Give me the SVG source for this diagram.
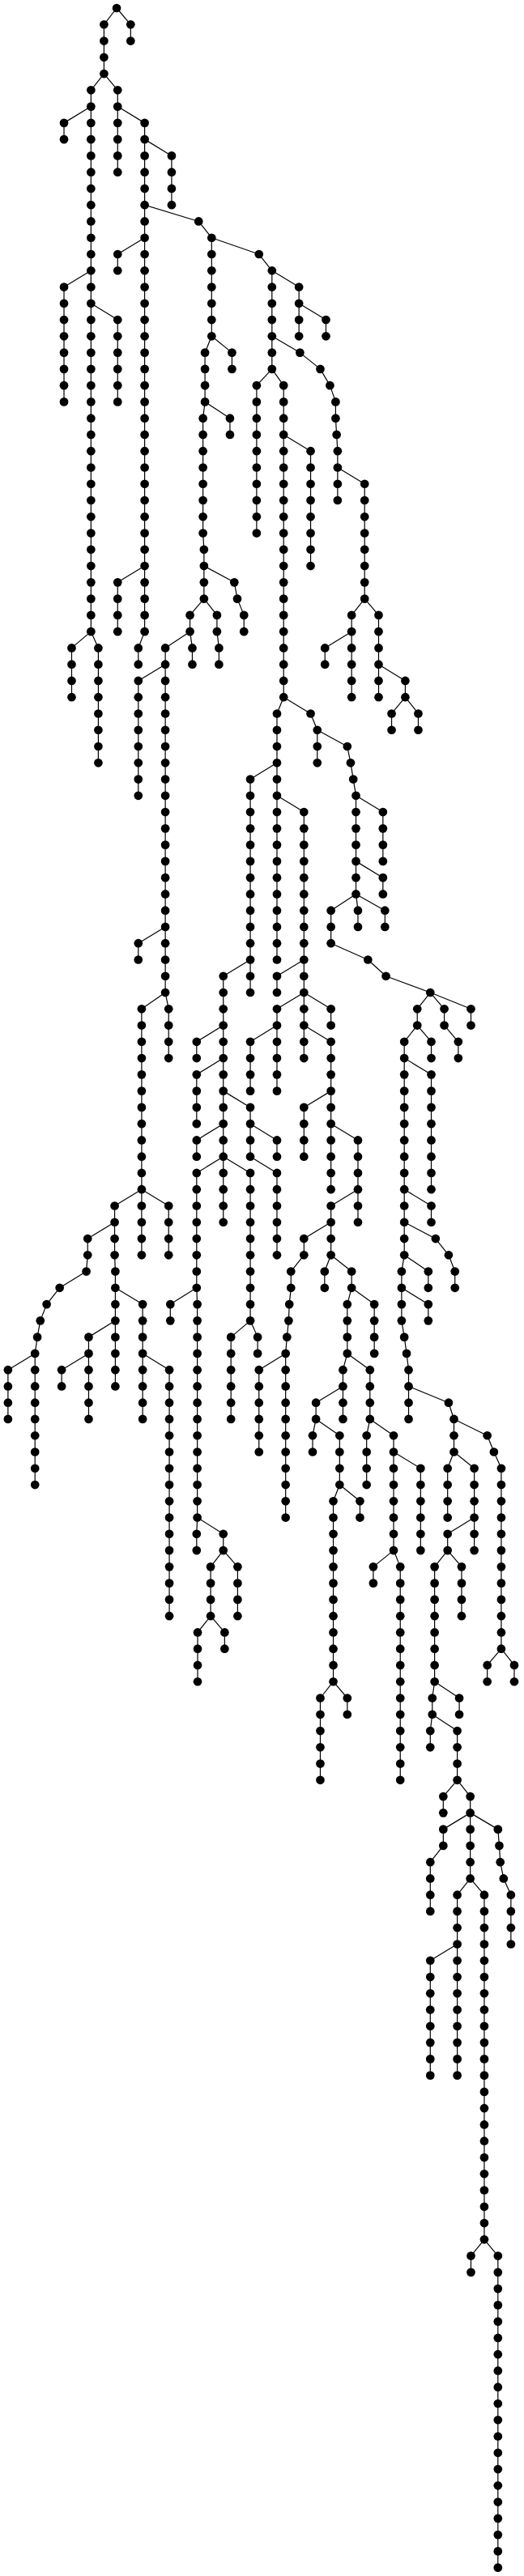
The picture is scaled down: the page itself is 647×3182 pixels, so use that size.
<svg xmlns="http://www.w3.org/2000/svg" width="647" height="3182" viewBox="0 0 647 3182">
<style>
.e path{fill:none;stroke:#000;stroke-width:1.2px;vector-effect:non-scaling-stroke;stroke-linejoin:round}
.n ellipse{fill:#000;rx:13px;ry:0.264px}
</style>
<rect width="647" height="3182" fill="#fff"/>
<g transform="translate(0 10) scale(0.411523 20.267)">
<g id="connectors" class="e">
<path d="M350 0L392 1V2"/><path d="M350 0L312 1V4"/><path d="M312 4L273 5V38"/><path d="M312 4L353 5V10"/><path d="M273 6L192 7V8"/><path d="M353 6L434 7V38"/><path d="M434 8L515 9V12"/><path d="M434 12L596 13L635 14V20"/><path d="M434 14L353 15V16"/><path d="M635 14L777 15L816 16V22"/><path d="M816 16L897 17V20"/><path d="M897 18L978 19V20"/><path d="M273 16L192 17V24"/><path d="M273 18L353 19V24"/><path d="M635 20L615 21V24"/><path d="M635 20L696 21V22"/><path d="M816 20L900 21L961 22L990 23L1007 24V25L1010 26L1013 27V30"/><path d="M816 22L770 23V32"/><path d="M816 22L851 23V42"/><path d="M615 24L609 25V32L612 33V36"/><path d="M615 24L690 25V26"/><path d="M851 26L932 27V34"/><path d="M1013 28L1094 29V36"/><path d="M434 34L353 35V38"/><path d="M612 34L703 35L712 36L732 37V38"/><path d="M612 36L570 37V38"/><path d="M612 36L651 37V38L657 39V40"/><path d="M1094 36L1055 37V42"/><path d="M1094 36L1136 37V42"/><path d="M273 38L215 39V42"/><path d="M273 38L295 39V46"/><path d="M434 38L415 39V40"/><path d="M570 38L496 39V60"/><path d="M570 38L577 39V40"/><path d="M1055 38L975 39V40"/><path d="M496 40L415 41V48"/><path d="M1136 40L1216 41V42"/><path d="M1216 42L1175 43V44"/><path d="M1216 42L1255 43V44"/><path d="M851 42L831 43V58"/><path d="M851 42L932 43L952 44V46"/><path d="M952 44L1042 45L1052 46L1060 47L1068 48V54"/><path d="M1068 48L1149 49V52"/><path d="M1068 52L1149 53V54"/><path d="M831 46L751 47V60"/><path d="M831 48L912 49V64"/><path d="M1068 54L993 55V57L1104 58L1158 59L1291 60"/><path d="M1068 54L1074 55V56"/><path d="M1068 54L1155 55V56"/><path d="M496 56L415 57V58"/><path d="M751 58L670 59V74"/><path d="M912 58L831 59V60"/><path d="M496 60L425 61V76"/><path d="M496 60L506 61V64"/><path d="M912 60L831 61V66"/><path d="M912 60L993 61V62"/><path d="M1291 60L1252 61V62"/><path d="M1291 60L1333 61V62"/><path d="M1291 60L1413 61V62"/><path d="M670 62L590 63V64"/><path d="M831 62L751 63V66"/><path d="M912 62L993 63V72"/><path d="M1252 62L1213 63V76L1205 77V80L1213 81L1220 82L1226 83V86"/><path d="M1252 62L1294 63V64"/><path d="M1333 62L1375 63V64"/><path d="M670 64L590 65V68"/><path d="M1213 64L1294 65V72"/><path d="M1213 72L1294 73V74"/><path d="M670 66L751 67V70L831 71V76"/><path d="M993 66L912 67V70"/><path d="M670 68L590 69V70"/><path d="M751 68L831 69V70"/><path d="M993 68L1074 69V74"/><path d="M670 70L590 71V78"/><path d="M670 70L751 71V80"/><path d="M425 72L344 73V76L346 77V84"/><path d="M425 72L506 73V76"/><path d="M1074 72L993 73V76"/><path d="M344 74L263 75V76L259 77L179 78L140 79L121 80L112 81L105 82V90"/><path d="M993 74L912 75V76L873 77V78L868 79L866 80L861 81L857 82V92"/><path d="M1213 74L1307 75L1346 76L1365 77V78"/><path d="M993 76L974 77V78"/><path d="M993 76L1055 77V78"/><path d="M1213 76L1285 77V78"/><path d="M346 78L428 79V86"/><path d="M590 78L511 79V80"/><path d="M590 78L592 79V92"/><path d="M1055 78L1042 79V82"/><path d="M1055 78L1123 79V82"/><path d="M1205 78L1285 79V80"/><path d="M346 80L266 81V86"/><path d="M751 80L693 81V86"/><path d="M751 80L773 81V82"/><path d="M105 82L24 83V86"/><path d="M266 82L185 83V84"/><path d="M428 82L508 83V98"/><path d="M857 82L777 83V88"/><path d="M1042 82L1029 83V86"/><path d="M1042 82L1110 83V86"/><path d="M1029 84L948 85V86"/><path d="M1226 84L1346 85L1362 86V88"/><path d="M948 86L938 87V88"/><path d="M948 86L1019 87V90"/><path d="M1110 86L1100 87V90"/><path d="M1110 86L1181 87V94"/><path d="M1362 86L1462 87L1482 88L1504 89V100"/><path d="M1181 88L1262 89V94"/><path d="M1362 88L1343 89V92"/><path d="M1362 88L1423 89V94"/><path d="M1019 90L1000 91V102"/><path d="M1019 90L1080 91V92"/><path d="M592 92L590 93V94"/><path d="M592 92L670 93V94"/><path d="M1423 92L1343 93V94"/><path d="M670 94L632 95V98"/><path d="M670 94L713 95V98"/><path d="M1181 94L1120 95V96"/><path d="M1181 94L1201 95V108"/><path d="M1343 94L1304 95V102"/><path d="M1343 94L1385 95V98"/><path d="M632 98L593 99V102"/><path d="M632 98L674 99V100"/><path d="M1504 100L1462 101V102"/><path d="M1504 100L1543 101V102"/><path d="M1000 102L961 103V108"/><path d="M1000 102L1042 103V104"/><path d="M1304 102L1297 103V104"/><path d="M1304 102L1378 103V104"/><path d="M1297 104L1291 105V106"/><path d="M1297 104L1372 105V108"/><path d="M1372 108L1330 109V110"/><path d="M1372 108L1411 109V114"/><path d="M1411 110L1330 111V112L1291 113V116"/><path d="M1411 110L1494 111L1498 112L1501 113L1511 114L1533 115V118"/><path d="M1411 114L1372 115V126"/><path d="M1411 114L1453 115V136"/><path d="M1372 118L1291 119V126"/><path d="M1453 136L1413 137V138"/><path d="M1453 136L1494 137V156"/>
</g>
<g id="nodes" class="n">
<g id="n0_350"><ellipse cx="350" cy="0"/></g>
<g id="n1_392"><ellipse cx="392" cy="1"/></g><g id="n2_392"><ellipse cx="392" cy="2"/></g>
<g id="n1_312"><ellipse cx="312" cy="1"/></g><g id="n2_312"><ellipse cx="312" cy="2"/></g><g id="n3_312"><ellipse cx="312" cy="3"/></g><g id="n4_312"><ellipse cx="312" cy="4"/></g>
<g id="n5_273"><ellipse cx="273" cy="5"/></g><g id="n6_273"><ellipse cx="273" cy="6"/></g><g id="n7_273"><ellipse cx="273" cy="7"/></g><g id="n8_273"><ellipse cx="273" cy="8"/></g><g id="n9_273"><ellipse cx="273" cy="9"/></g><g id="n10_273"><ellipse cx="273" cy="10"/></g><g id="n11_273"><ellipse cx="273" cy="11"/></g><g id="n12_273"><ellipse cx="273" cy="12"/></g><g id="n13_273"><ellipse cx="273" cy="13"/></g><g id="n14_273"><ellipse cx="273" cy="14"/></g><g id="n15_273"><ellipse cx="273" cy="15"/></g><g id="n16_273"><ellipse cx="273" cy="16"/></g><g id="n17_273"><ellipse cx="273" cy="17"/></g><g id="n18_273"><ellipse cx="273" cy="18"/></g><g id="n19_273"><ellipse cx="273" cy="19"/></g><g id="n20_273"><ellipse cx="273" cy="20"/></g><g id="n21_273"><ellipse cx="273" cy="21"/></g><g id="n22_273"><ellipse cx="273" cy="22"/></g><g id="n23_273"><ellipse cx="273" cy="23"/></g><g id="n24_273"><ellipse cx="273" cy="24"/></g><g id="n25_273"><ellipse cx="273" cy="25"/></g><g id="n26_273"><ellipse cx="273" cy="26"/></g><g id="n27_273"><ellipse cx="273" cy="27"/></g><g id="n28_273"><ellipse cx="273" cy="28"/></g><g id="n29_273"><ellipse cx="273" cy="29"/></g><g id="n30_273"><ellipse cx="273" cy="30"/></g><g id="n31_273"><ellipse cx="273" cy="31"/></g><g id="n32_273"><ellipse cx="273" cy="32"/></g><g id="n33_273"><ellipse cx="273" cy="33"/></g><g id="n34_273"><ellipse cx="273" cy="34"/></g><g id="n35_273"><ellipse cx="273" cy="35"/></g><g id="n36_273"><ellipse cx="273" cy="36"/></g><g id="n37_273"><ellipse cx="273" cy="37"/></g><g id="n38_273"><ellipse cx="273" cy="38"/></g>
<g id="n5_353"><ellipse cx="353" cy="5"/></g><g id="n6_353"><ellipse cx="353" cy="6"/></g><g id="n7_353"><ellipse cx="353" cy="7"/></g><g id="n8_353"><ellipse cx="353" cy="8"/></g><g id="n9_353"><ellipse cx="353" cy="9"/></g><g id="n10_353"><ellipse cx="353" cy="10"/></g>
<g id="n7_192"><ellipse cx="192" cy="7"/></g><g id="n8_192"><ellipse cx="192" cy="8"/></g>
<g id="n7_434"><ellipse cx="434" cy="7"/></g><g id="n8_434"><ellipse cx="434" cy="8"/></g><g id="n9_434"><ellipse cx="434" cy="9"/></g><g id="n10_434"><ellipse cx="434" cy="10"/></g><g id="n11_434"><ellipse cx="434" cy="11"/></g><g id="n12_434"><ellipse cx="434" cy="12"/></g><g id="n13_434"><ellipse cx="434" cy="13"/></g><g id="n14_434"><ellipse cx="434" cy="14"/></g><g id="n15_434"><ellipse cx="434" cy="15"/></g><g id="n16_434"><ellipse cx="434" cy="16"/></g><g id="n17_434"><ellipse cx="434" cy="17"/></g><g id="n18_434"><ellipse cx="434" cy="18"/></g><g id="n19_434"><ellipse cx="434" cy="19"/></g><g id="n20_434"><ellipse cx="434" cy="20"/></g><g id="n21_434"><ellipse cx="434" cy="21"/></g><g id="n22_434"><ellipse cx="434" cy="22"/></g><g id="n23_434"><ellipse cx="434" cy="23"/></g><g id="n24_434"><ellipse cx="434" cy="24"/></g><g id="n25_434"><ellipse cx="434" cy="25"/></g><g id="n26_434"><ellipse cx="434" cy="26"/></g><g id="n27_434"><ellipse cx="434" cy="27"/></g><g id="n28_434"><ellipse cx="434" cy="28"/></g><g id="n29_434"><ellipse cx="434" cy="29"/></g><g id="n30_434"><ellipse cx="434" cy="30"/></g><g id="n31_434"><ellipse cx="434" cy="31"/></g><g id="n32_434"><ellipse cx="434" cy="32"/></g><g id="n33_434"><ellipse cx="434" cy="33"/></g><g id="n34_434"><ellipse cx="434" cy="34"/></g><g id="n35_434"><ellipse cx="434" cy="35"/></g><g id="n36_434"><ellipse cx="434" cy="36"/></g><g id="n37_434"><ellipse cx="434" cy="37"/></g><g id="n38_434"><ellipse cx="434" cy="38"/></g>
<g id="n9_515"><ellipse cx="515" cy="9"/></g><g id="n10_515"><ellipse cx="515" cy="10"/></g><g id="n11_515"><ellipse cx="515" cy="11"/></g><g id="n12_515"><ellipse cx="515" cy="12"/></g>
<g id="n13_596"><ellipse cx="596" cy="13"/></g><g id="n14_635"><ellipse cx="635" cy="14"/></g><g id="n15_635"><ellipse cx="635" cy="15"/></g><g id="n16_635"><ellipse cx="635" cy="16"/></g><g id="n17_635"><ellipse cx="635" cy="17"/></g><g id="n18_635"><ellipse cx="635" cy="18"/></g><g id="n19_635"><ellipse cx="635" cy="19"/></g><g id="n20_635"><ellipse cx="635" cy="20"/></g>
<g id="n15_353"><ellipse cx="353" cy="15"/></g><g id="n16_353"><ellipse cx="353" cy="16"/></g>
<g id="n15_777"><ellipse cx="777" cy="15"/></g><g id="n16_816"><ellipse cx="816" cy="16"/></g><g id="n17_816"><ellipse cx="816" cy="17"/></g><g id="n18_816"><ellipse cx="816" cy="18"/></g><g id="n19_816"><ellipse cx="816" cy="19"/></g><g id="n20_816"><ellipse cx="816" cy="20"/></g><g id="n21_816"><ellipse cx="816" cy="21"/></g><g id="n22_816"><ellipse cx="816" cy="22"/></g>
<g id="n17_897"><ellipse cx="897" cy="17"/></g><g id="n18_897"><ellipse cx="897" cy="18"/></g><g id="n19_897"><ellipse cx="897" cy="19"/></g><g id="n20_897"><ellipse cx="897" cy="20"/></g>
<g id="n19_978"><ellipse cx="978" cy="19"/></g><g id="n20_978"><ellipse cx="978" cy="20"/></g>
<g id="n17_192"><ellipse cx="192" cy="17"/></g><g id="n18_192"><ellipse cx="192" cy="18"/></g><g id="n19_192"><ellipse cx="192" cy="19"/></g><g id="n20_192"><ellipse cx="192" cy="20"/></g><g id="n21_192"><ellipse cx="192" cy="21"/></g><g id="n22_192"><ellipse cx="192" cy="22"/></g><g id="n23_192"><ellipse cx="192" cy="23"/></g><g id="n24_192"><ellipse cx="192" cy="24"/></g>
<g id="n19_353"><ellipse cx="353" cy="19"/></g><g id="n20_353"><ellipse cx="353" cy="20"/></g><g id="n21_353"><ellipse cx="353" cy="21"/></g><g id="n22_353"><ellipse cx="353" cy="22"/></g><g id="n23_353"><ellipse cx="353" cy="23"/></g><g id="n24_353"><ellipse cx="353" cy="24"/></g>
<g id="n21_615"><ellipse cx="615" cy="21"/></g><g id="n22_615"><ellipse cx="615" cy="22"/></g><g id="n23_615"><ellipse cx="615" cy="23"/></g><g id="n24_615"><ellipse cx="615" cy="24"/></g>
<g id="n21_696"><ellipse cx="696" cy="21"/></g><g id="n22_696"><ellipse cx="696" cy="22"/></g>
<g id="n21_900"><ellipse cx="900" cy="21"/></g><g id="n22_961"><ellipse cx="961" cy="22"/></g><g id="n23_990"><ellipse cx="990" cy="23"/></g><g id="n24_1007"><ellipse cx="1007" cy="24"/></g><g id="n25_1007"><ellipse cx="1007" cy="25"/></g><g id="n26_1010"><ellipse cx="1010" cy="26"/></g><g id="n27_1013"><ellipse cx="1013" cy="27"/></g><g id="n28_1013"><ellipse cx="1013" cy="28"/></g><g id="n29_1013"><ellipse cx="1013" cy="29"/></g><g id="n30_1013"><ellipse cx="1013" cy="30"/></g>
<g id="n23_770"><ellipse cx="770" cy="23"/></g><g id="n24_770"><ellipse cx="770" cy="24"/></g><g id="n25_770"><ellipse cx="770" cy="25"/></g><g id="n26_770"><ellipse cx="770" cy="26"/></g><g id="n27_770"><ellipse cx="770" cy="27"/></g><g id="n28_770"><ellipse cx="770" cy="28"/></g><g id="n29_770"><ellipse cx="770" cy="29"/></g><g id="n30_770"><ellipse cx="770" cy="30"/></g><g id="n31_770"><ellipse cx="770" cy="31"/></g><g id="n32_770"><ellipse cx="770" cy="32"/></g>
<g id="n23_851"><ellipse cx="851" cy="23"/></g><g id="n24_851"><ellipse cx="851" cy="24"/></g><g id="n25_851"><ellipse cx="851" cy="25"/></g><g id="n26_851"><ellipse cx="851" cy="26"/></g><g id="n27_851"><ellipse cx="851" cy="27"/></g><g id="n28_851"><ellipse cx="851" cy="28"/></g><g id="n29_851"><ellipse cx="851" cy="29"/></g><g id="n30_851"><ellipse cx="851" cy="30"/></g><g id="n31_851"><ellipse cx="851" cy="31"/></g><g id="n32_851"><ellipse cx="851" cy="32"/></g><g id="n33_851"><ellipse cx="851" cy="33"/></g><g id="n34_851"><ellipse cx="851" cy="34"/></g><g id="n35_851"><ellipse cx="851" cy="35"/></g><g id="n36_851"><ellipse cx="851" cy="36"/></g><g id="n37_851"><ellipse cx="851" cy="37"/></g><g id="n38_851"><ellipse cx="851" cy="38"/></g><g id="n39_851"><ellipse cx="851" cy="39"/></g><g id="n40_851"><ellipse cx="851" cy="40"/></g><g id="n41_851"><ellipse cx="851" cy="41"/></g><g id="n42_851"><ellipse cx="851" cy="42"/></g>
<g id="n25_609"><ellipse cx="609" cy="25"/></g><g id="n26_609"><ellipse cx="609" cy="26"/></g><g id="n27_609"><ellipse cx="609" cy="27"/></g><g id="n28_609"><ellipse cx="609" cy="28"/></g><g id="n29_609"><ellipse cx="609" cy="29"/></g><g id="n30_609"><ellipse cx="609" cy="30"/></g><g id="n31_609"><ellipse cx="609" cy="31"/></g><g id="n32_609"><ellipse cx="609" cy="32"/></g><g id="n33_612"><ellipse cx="612" cy="33"/></g><g id="n34_612"><ellipse cx="612" cy="34"/></g><g id="n35_612"><ellipse cx="612" cy="35"/></g><g id="n36_612"><ellipse cx="612" cy="36"/></g>
<g id="n25_690"><ellipse cx="690" cy="25"/></g><g id="n26_690"><ellipse cx="690" cy="26"/></g>
<g id="n27_932"><ellipse cx="932" cy="27"/></g><g id="n28_932"><ellipse cx="932" cy="28"/></g><g id="n29_932"><ellipse cx="932" cy="29"/></g><g id="n30_932"><ellipse cx="932" cy="30"/></g><g id="n31_932"><ellipse cx="932" cy="31"/></g><g id="n32_932"><ellipse cx="932" cy="32"/></g><g id="n33_932"><ellipse cx="932" cy="33"/></g><g id="n34_932"><ellipse cx="932" cy="34"/></g>
<g id="n29_1094"><ellipse cx="1094" cy="29"/></g><g id="n30_1094"><ellipse cx="1094" cy="30"/></g><g id="n31_1094"><ellipse cx="1094" cy="31"/></g><g id="n32_1094"><ellipse cx="1094" cy="32"/></g><g id="n33_1094"><ellipse cx="1094" cy="33"/></g><g id="n34_1094"><ellipse cx="1094" cy="34"/></g><g id="n35_1094"><ellipse cx="1094" cy="35"/></g><g id="n36_1094"><ellipse cx="1094" cy="36"/></g>
<g id="n35_353"><ellipse cx="353" cy="35"/></g><g id="n36_353"><ellipse cx="353" cy="36"/></g><g id="n37_353"><ellipse cx="353" cy="37"/></g><g id="n38_353"><ellipse cx="353" cy="38"/></g>
<g id="n35_703"><ellipse cx="703" cy="35"/></g><g id="n36_712"><ellipse cx="712" cy="36"/></g><g id="n37_732"><ellipse cx="732" cy="37"/></g><g id="n38_732"><ellipse cx="732" cy="38"/></g>
<g id="n37_570"><ellipse cx="570" cy="37"/></g><g id="n38_570"><ellipse cx="570" cy="38"/></g>
<g id="n37_651"><ellipse cx="651" cy="37"/></g><g id="n38_651"><ellipse cx="651" cy="38"/></g><g id="n39_657"><ellipse cx="657" cy="39"/></g><g id="n40_657"><ellipse cx="657" cy="40"/></g>
<g id="n37_1055"><ellipse cx="1055" cy="37"/></g><g id="n38_1055"><ellipse cx="1055" cy="38"/></g><g id="n39_1055"><ellipse cx="1055" cy="39"/></g><g id="n40_1055"><ellipse cx="1055" cy="40"/></g><g id="n41_1055"><ellipse cx="1055" cy="41"/></g><g id="n42_1055"><ellipse cx="1055" cy="42"/></g>
<g id="n37_1136"><ellipse cx="1136" cy="37"/></g><g id="n38_1136"><ellipse cx="1136" cy="38"/></g><g id="n39_1136"><ellipse cx="1136" cy="39"/></g><g id="n40_1136"><ellipse cx="1136" cy="40"/></g><g id="n41_1136"><ellipse cx="1136" cy="41"/></g><g id="n42_1136"><ellipse cx="1136" cy="42"/></g>
<g id="n39_215"><ellipse cx="215" cy="39"/></g><g id="n40_215"><ellipse cx="215" cy="40"/></g><g id="n41_215"><ellipse cx="215" cy="41"/></g><g id="n42_215"><ellipse cx="215" cy="42"/></g>
<g id="n39_295"><ellipse cx="295" cy="39"/></g><g id="n40_295"><ellipse cx="295" cy="40"/></g><g id="n41_295"><ellipse cx="295" cy="41"/></g><g id="n42_295"><ellipse cx="295" cy="42"/></g><g id="n43_295"><ellipse cx="295" cy="43"/></g><g id="n44_295"><ellipse cx="295" cy="44"/></g><g id="n45_295"><ellipse cx="295" cy="45"/></g><g id="n46_295"><ellipse cx="295" cy="46"/></g>
<g id="n39_415"><ellipse cx="415" cy="39"/></g><g id="n40_415"><ellipse cx="415" cy="40"/></g>
<g id="n39_496"><ellipse cx="496" cy="39"/></g><g id="n40_496"><ellipse cx="496" cy="40"/></g><g id="n41_496"><ellipse cx="496" cy="41"/></g><g id="n42_496"><ellipse cx="496" cy="42"/></g><g id="n43_496"><ellipse cx="496" cy="43"/></g><g id="n44_496"><ellipse cx="496" cy="44"/></g><g id="n45_496"><ellipse cx="496" cy="45"/></g><g id="n46_496"><ellipse cx="496" cy="46"/></g><g id="n47_496"><ellipse cx="496" cy="47"/></g><g id="n48_496"><ellipse cx="496" cy="48"/></g><g id="n49_496"><ellipse cx="496" cy="49"/></g><g id="n50_496"><ellipse cx="496" cy="50"/></g><g id="n51_496"><ellipse cx="496" cy="51"/></g><g id="n52_496"><ellipse cx="496" cy="52"/></g><g id="n53_496"><ellipse cx="496" cy="53"/></g><g id="n54_496"><ellipse cx="496" cy="54"/></g><g id="n55_496"><ellipse cx="496" cy="55"/></g><g id="n56_496"><ellipse cx="496" cy="56"/></g><g id="n57_496"><ellipse cx="496" cy="57"/></g><g id="n58_496"><ellipse cx="496" cy="58"/></g><g id="n59_496"><ellipse cx="496" cy="59"/></g><g id="n60_496"><ellipse cx="496" cy="60"/></g>
<g id="n39_577"><ellipse cx="577" cy="39"/></g><g id="n40_577"><ellipse cx="577" cy="40"/></g>
<g id="n39_975"><ellipse cx="975" cy="39"/></g><g id="n40_975"><ellipse cx="975" cy="40"/></g>
<g id="n41_415"><ellipse cx="415" cy="41"/></g><g id="n42_415"><ellipse cx="415" cy="42"/></g><g id="n43_415"><ellipse cx="415" cy="43"/></g><g id="n44_415"><ellipse cx="415" cy="44"/></g><g id="n45_415"><ellipse cx="415" cy="45"/></g><g id="n46_415"><ellipse cx="415" cy="46"/></g><g id="n47_415"><ellipse cx="415" cy="47"/></g><g id="n48_415"><ellipse cx="415" cy="48"/></g>
<g id="n41_1216"><ellipse cx="1216" cy="41"/></g><g id="n42_1216"><ellipse cx="1216" cy="42"/></g>
<g id="n43_1175"><ellipse cx="1175" cy="43"/></g><g id="n44_1175"><ellipse cx="1175" cy="44"/></g>
<g id="n43_1255"><ellipse cx="1255" cy="43"/></g><g id="n44_1255"><ellipse cx="1255" cy="44"/></g>
<g id="n43_831"><ellipse cx="831" cy="43"/></g><g id="n44_831"><ellipse cx="831" cy="44"/></g><g id="n45_831"><ellipse cx="831" cy="45"/></g><g id="n46_831"><ellipse cx="831" cy="46"/></g><g id="n47_831"><ellipse cx="831" cy="47"/></g><g id="n48_831"><ellipse cx="831" cy="48"/></g><g id="n49_831"><ellipse cx="831" cy="49"/></g><g id="n50_831"><ellipse cx="831" cy="50"/></g><g id="n51_831"><ellipse cx="831" cy="51"/></g><g id="n52_831"><ellipse cx="831" cy="52"/></g><g id="n53_831"><ellipse cx="831" cy="53"/></g><g id="n54_831"><ellipse cx="831" cy="54"/></g><g id="n55_831"><ellipse cx="831" cy="55"/></g><g id="n56_831"><ellipse cx="831" cy="56"/></g><g id="n57_831"><ellipse cx="831" cy="57"/></g><g id="n58_831"><ellipse cx="831" cy="58"/></g>
<g id="n43_932"><ellipse cx="932" cy="43"/></g><g id="n44_952"><ellipse cx="952" cy="44"/></g><g id="n45_952"><ellipse cx="952" cy="45"/></g><g id="n46_952"><ellipse cx="952" cy="46"/></g>
<g id="n45_1042"><ellipse cx="1042" cy="45"/></g><g id="n46_1052"><ellipse cx="1052" cy="46"/></g><g id="n47_1060"><ellipse cx="1060" cy="47"/></g><g id="n48_1068"><ellipse cx="1068" cy="48"/></g><g id="n49_1068"><ellipse cx="1068" cy="49"/></g><g id="n50_1068"><ellipse cx="1068" cy="50"/></g><g id="n51_1068"><ellipse cx="1068" cy="51"/></g><g id="n52_1068"><ellipse cx="1068" cy="52"/></g><g id="n53_1068"><ellipse cx="1068" cy="53"/></g><g id="n54_1068"><ellipse cx="1068" cy="54"/></g>
<g id="n49_1149"><ellipse cx="1149" cy="49"/></g><g id="n50_1149"><ellipse cx="1149" cy="50"/></g><g id="n51_1149"><ellipse cx="1149" cy="51"/></g><g id="n52_1149"><ellipse cx="1149" cy="52"/></g>
<g id="n53_1149"><ellipse cx="1149" cy="53"/></g><g id="n54_1149"><ellipse cx="1149" cy="54"/></g>
<g id="n47_751"><ellipse cx="751" cy="47"/></g><g id="n48_751"><ellipse cx="751" cy="48"/></g><g id="n49_751"><ellipse cx="751" cy="49"/></g><g id="n50_751"><ellipse cx="751" cy="50"/></g><g id="n51_751"><ellipse cx="751" cy="51"/></g><g id="n52_751"><ellipse cx="751" cy="52"/></g><g id="n53_751"><ellipse cx="751" cy="53"/></g><g id="n54_751"><ellipse cx="751" cy="54"/></g><g id="n55_751"><ellipse cx="751" cy="55"/></g><g id="n56_751"><ellipse cx="751" cy="56"/></g><g id="n57_751"><ellipse cx="751" cy="57"/></g><g id="n58_751"><ellipse cx="751" cy="58"/></g><g id="n59_751"><ellipse cx="751" cy="59"/></g><g id="n60_751"><ellipse cx="751" cy="60"/></g>
<g id="n49_912"><ellipse cx="912" cy="49"/></g><g id="n50_912"><ellipse cx="912" cy="50"/></g><g id="n51_912"><ellipse cx="912" cy="51"/></g><g id="n52_912"><ellipse cx="912" cy="52"/></g><g id="n53_912"><ellipse cx="912" cy="53"/></g><g id="n54_912"><ellipse cx="912" cy="54"/></g><g id="n55_912"><ellipse cx="912" cy="55"/></g><g id="n56_912"><ellipse cx="912" cy="56"/></g><g id="n57_912"><ellipse cx="912" cy="57"/></g><g id="n58_912"><ellipse cx="912" cy="58"/></g><g id="n59_912"><ellipse cx="912" cy="59"/></g><g id="n60_912"><ellipse cx="912" cy="60"/></g><g id="n61_912"><ellipse cx="912" cy="61"/></g><g id="n62_912"><ellipse cx="912" cy="62"/></g><g id="n63_912"><ellipse cx="912" cy="63"/></g><g id="n64_912"><ellipse cx="912" cy="64"/></g>
<g id="n55_993"><ellipse cx="993" cy="55"/></g><g id="n56_993"><ellipse cx="993" cy="56"/></g><g id="n57_993"><ellipse cx="993" cy="57"/></g><g id="n58_1104"><ellipse cx="1104" cy="58"/></g><g id="n59_1158"><ellipse cx="1158" cy="59"/></g><g id="n60_1291"><ellipse cx="1291" cy="60"/></g>
<g id="n55_1074"><ellipse cx="1074" cy="55"/></g><g id="n56_1074"><ellipse cx="1074" cy="56"/></g>
<g id="n55_1155"><ellipse cx="1155" cy="55"/></g><g id="n56_1155"><ellipse cx="1155" cy="56"/></g>
<g id="n57_415"><ellipse cx="415" cy="57"/></g><g id="n58_415"><ellipse cx="415" cy="58"/></g>
<g id="n59_670"><ellipse cx="670" cy="59"/></g><g id="n60_670"><ellipse cx="670" cy="60"/></g><g id="n61_670"><ellipse cx="670" cy="61"/></g><g id="n62_670"><ellipse cx="670" cy="62"/></g><g id="n63_670"><ellipse cx="670" cy="63"/></g><g id="n64_670"><ellipse cx="670" cy="64"/></g><g id="n65_670"><ellipse cx="670" cy="65"/></g><g id="n66_670"><ellipse cx="670" cy="66"/></g><g id="n67_670"><ellipse cx="670" cy="67"/></g><g id="n68_670"><ellipse cx="670" cy="68"/></g><g id="n69_670"><ellipse cx="670" cy="69"/></g><g id="n70_670"><ellipse cx="670" cy="70"/></g><g id="n71_670"><ellipse cx="670" cy="71"/></g><g id="n72_670"><ellipse cx="670" cy="72"/></g><g id="n73_670"><ellipse cx="670" cy="73"/></g><g id="n74_670"><ellipse cx="670" cy="74"/></g>
<g id="n59_831"><ellipse cx="831" cy="59"/></g><g id="n60_831"><ellipse cx="831" cy="60"/></g>
<g id="n61_425"><ellipse cx="425" cy="61"/></g><g id="n62_425"><ellipse cx="425" cy="62"/></g><g id="n63_425"><ellipse cx="425" cy="63"/></g><g id="n64_425"><ellipse cx="425" cy="64"/></g><g id="n65_425"><ellipse cx="425" cy="65"/></g><g id="n66_425"><ellipse cx="425" cy="66"/></g><g id="n67_425"><ellipse cx="425" cy="67"/></g><g id="n68_425"><ellipse cx="425" cy="68"/></g><g id="n69_425"><ellipse cx="425" cy="69"/></g><g id="n70_425"><ellipse cx="425" cy="70"/></g><g id="n71_425"><ellipse cx="425" cy="71"/></g><g id="n72_425"><ellipse cx="425" cy="72"/></g><g id="n73_425"><ellipse cx="425" cy="73"/></g><g id="n74_425"><ellipse cx="425" cy="74"/></g><g id="n75_425"><ellipse cx="425" cy="75"/></g><g id="n76_425"><ellipse cx="425" cy="76"/></g>
<g id="n61_506"><ellipse cx="506" cy="61"/></g><g id="n62_506"><ellipse cx="506" cy="62"/></g><g id="n63_506"><ellipse cx="506" cy="63"/></g><g id="n64_506"><ellipse cx="506" cy="64"/></g>
<g id="n61_831"><ellipse cx="831" cy="61"/></g><g id="n62_831"><ellipse cx="831" cy="62"/></g><g id="n63_831"><ellipse cx="831" cy="63"/></g><g id="n64_831"><ellipse cx="831" cy="64"/></g><g id="n65_831"><ellipse cx="831" cy="65"/></g><g id="n66_831"><ellipse cx="831" cy="66"/></g>
<g id="n61_993"><ellipse cx="993" cy="61"/></g><g id="n62_993"><ellipse cx="993" cy="62"/></g>
<g id="n61_1252"><ellipse cx="1252" cy="61"/></g><g id="n62_1252"><ellipse cx="1252" cy="62"/></g>
<g id="n61_1333"><ellipse cx="1333" cy="61"/></g><g id="n62_1333"><ellipse cx="1333" cy="62"/></g>
<g id="n61_1413"><ellipse cx="1413" cy="61"/></g><g id="n62_1413"><ellipse cx="1413" cy="62"/></g>
<g id="n63_590"><ellipse cx="590" cy="63"/></g><g id="n64_590"><ellipse cx="590" cy="64"/></g>
<g id="n63_751"><ellipse cx="751" cy="63"/></g><g id="n64_751"><ellipse cx="751" cy="64"/></g><g id="n65_751"><ellipse cx="751" cy="65"/></g><g id="n66_751"><ellipse cx="751" cy="66"/></g>
<g id="n63_993"><ellipse cx="993" cy="63"/></g><g id="n64_993"><ellipse cx="993" cy="64"/></g><g id="n65_993"><ellipse cx="993" cy="65"/></g><g id="n66_993"><ellipse cx="993" cy="66"/></g><g id="n67_993"><ellipse cx="993" cy="67"/></g><g id="n68_993"><ellipse cx="993" cy="68"/></g><g id="n69_993"><ellipse cx="993" cy="69"/></g><g id="n70_993"><ellipse cx="993" cy="70"/></g><g id="n71_993"><ellipse cx="993" cy="71"/></g><g id="n72_993"><ellipse cx="993" cy="72"/></g>
<g id="n63_1213"><ellipse cx="1213" cy="63"/></g><g id="n64_1213"><ellipse cx="1213" cy="64"/></g><g id="n65_1213"><ellipse cx="1213" cy="65"/></g><g id="n66_1213"><ellipse cx="1213" cy="66"/></g><g id="n67_1213"><ellipse cx="1213" cy="67"/></g><g id="n68_1213"><ellipse cx="1213" cy="68"/></g><g id="n69_1213"><ellipse cx="1213" cy="69"/></g><g id="n70_1213"><ellipse cx="1213" cy="70"/></g><g id="n71_1213"><ellipse cx="1213" cy="71"/></g><g id="n72_1213"><ellipse cx="1213" cy="72"/></g><g id="n73_1213"><ellipse cx="1213" cy="73"/></g><g id="n74_1213"><ellipse cx="1213" cy="74"/></g><g id="n75_1213"><ellipse cx="1213" cy="75"/></g><g id="n76_1213"><ellipse cx="1213" cy="76"/></g><g id="n77_1205"><ellipse cx="1205" cy="77"/></g><g id="n78_1205"><ellipse cx="1205" cy="78"/></g><g id="n79_1205"><ellipse cx="1205" cy="79"/></g><g id="n80_1205"><ellipse cx="1205" cy="80"/></g><g id="n81_1213"><ellipse cx="1213" cy="81"/></g><g id="n82_1220"><ellipse cx="1220" cy="82"/></g><g id="n83_1226"><ellipse cx="1226" cy="83"/></g><g id="n84_1226"><ellipse cx="1226" cy="84"/></g><g id="n85_1226"><ellipse cx="1226" cy="85"/></g><g id="n86_1226"><ellipse cx="1226" cy="86"/></g>
<g id="n63_1294"><ellipse cx="1294" cy="63"/></g><g id="n64_1294"><ellipse cx="1294" cy="64"/></g>
<g id="n63_1375"><ellipse cx="1375" cy="63"/></g><g id="n64_1375"><ellipse cx="1375" cy="64"/></g>
<g id="n65_590"><ellipse cx="590" cy="65"/></g><g id="n66_590"><ellipse cx="590" cy="66"/></g><g id="n67_590"><ellipse cx="590" cy="67"/></g><g id="n68_590"><ellipse cx="590" cy="68"/></g>
<g id="n65_1294"><ellipse cx="1294" cy="65"/></g><g id="n66_1294"><ellipse cx="1294" cy="66"/></g><g id="n67_1294"><ellipse cx="1294" cy="67"/></g><g id="n68_1294"><ellipse cx="1294" cy="68"/></g><g id="n69_1294"><ellipse cx="1294" cy="69"/></g><g id="n70_1294"><ellipse cx="1294" cy="70"/></g><g id="n71_1294"><ellipse cx="1294" cy="71"/></g><g id="n72_1294"><ellipse cx="1294" cy="72"/></g>
<g id="n73_1294"><ellipse cx="1294" cy="73"/></g><g id="n74_1294"><ellipse cx="1294" cy="74"/></g>
<g id="n67_751"><ellipse cx="751" cy="67"/></g><g id="n68_751"><ellipse cx="751" cy="68"/></g><g id="n69_751"><ellipse cx="751" cy="69"/></g><g id="n70_751"><ellipse cx="751" cy="70"/></g><g id="n71_831"><ellipse cx="831" cy="71"/></g><g id="n72_831"><ellipse cx="831" cy="72"/></g><g id="n73_831"><ellipse cx="831" cy="73"/></g><g id="n74_831"><ellipse cx="831" cy="74"/></g><g id="n75_831"><ellipse cx="831" cy="75"/></g><g id="n76_831"><ellipse cx="831" cy="76"/></g>
<g id="n67_912"><ellipse cx="912" cy="67"/></g><g id="n68_912"><ellipse cx="912" cy="68"/></g><g id="n69_912"><ellipse cx="912" cy="69"/></g><g id="n70_912"><ellipse cx="912" cy="70"/></g>
<g id="n69_590"><ellipse cx="590" cy="69"/></g><g id="n70_590"><ellipse cx="590" cy="70"/></g>
<g id="n69_831"><ellipse cx="831" cy="69"/></g><g id="n70_831"><ellipse cx="831" cy="70"/></g>
<g id="n69_1074"><ellipse cx="1074" cy="69"/></g><g id="n70_1074"><ellipse cx="1074" cy="70"/></g><g id="n71_1074"><ellipse cx="1074" cy="71"/></g><g id="n72_1074"><ellipse cx="1074" cy="72"/></g><g id="n73_1074"><ellipse cx="1074" cy="73"/></g><g id="n74_1074"><ellipse cx="1074" cy="74"/></g>
<g id="n71_590"><ellipse cx="590" cy="71"/></g><g id="n72_590"><ellipse cx="590" cy="72"/></g><g id="n73_590"><ellipse cx="590" cy="73"/></g><g id="n74_590"><ellipse cx="590" cy="74"/></g><g id="n75_590"><ellipse cx="590" cy="75"/></g><g id="n76_590"><ellipse cx="590" cy="76"/></g><g id="n77_590"><ellipse cx="590" cy="77"/></g><g id="n78_590"><ellipse cx="590" cy="78"/></g>
<g id="n71_751"><ellipse cx="751" cy="71"/></g><g id="n72_751"><ellipse cx="751" cy="72"/></g><g id="n73_751"><ellipse cx="751" cy="73"/></g><g id="n74_751"><ellipse cx="751" cy="74"/></g><g id="n75_751"><ellipse cx="751" cy="75"/></g><g id="n76_751"><ellipse cx="751" cy="76"/></g><g id="n77_751"><ellipse cx="751" cy="77"/></g><g id="n78_751"><ellipse cx="751" cy="78"/></g><g id="n79_751"><ellipse cx="751" cy="79"/></g><g id="n80_751"><ellipse cx="751" cy="80"/></g>
<g id="n73_344"><ellipse cx="344" cy="73"/></g><g id="n74_344"><ellipse cx="344" cy="74"/></g><g id="n75_344"><ellipse cx="344" cy="75"/></g><g id="n76_344"><ellipse cx="344" cy="76"/></g><g id="n77_346"><ellipse cx="346" cy="77"/></g><g id="n78_346"><ellipse cx="346" cy="78"/></g><g id="n79_346"><ellipse cx="346" cy="79"/></g><g id="n80_346"><ellipse cx="346" cy="80"/></g><g id="n81_346"><ellipse cx="346" cy="81"/></g><g id="n82_346"><ellipse cx="346" cy="82"/></g><g id="n83_346"><ellipse cx="346" cy="83"/></g><g id="n84_346"><ellipse cx="346" cy="84"/></g>
<g id="n73_506"><ellipse cx="506" cy="73"/></g><g id="n74_506"><ellipse cx="506" cy="74"/></g><g id="n75_506"><ellipse cx="506" cy="75"/></g><g id="n76_506"><ellipse cx="506" cy="76"/></g>
<g id="n73_993"><ellipse cx="993" cy="73"/></g><g id="n74_993"><ellipse cx="993" cy="74"/></g><g id="n75_993"><ellipse cx="993" cy="75"/></g><g id="n76_993"><ellipse cx="993" cy="76"/></g>
<g id="n75_263"><ellipse cx="263" cy="75"/></g><g id="n76_263"><ellipse cx="263" cy="76"/></g><g id="n77_259"><ellipse cx="259" cy="77"/></g><g id="n78_179"><ellipse cx="179" cy="78"/></g><g id="n79_140"><ellipse cx="140" cy="79"/></g><g id="n80_121"><ellipse cx="121" cy="80"/></g><g id="n81_112"><ellipse cx="112" cy="81"/></g><g id="n82_105"><ellipse cx="105" cy="82"/></g><g id="n83_105"><ellipse cx="105" cy="83"/></g><g id="n84_105"><ellipse cx="105" cy="84"/></g><g id="n85_105"><ellipse cx="105" cy="85"/></g><g id="n86_105"><ellipse cx="105" cy="86"/></g><g id="n87_105"><ellipse cx="105" cy="87"/></g><g id="n88_105"><ellipse cx="105" cy="88"/></g><g id="n89_105"><ellipse cx="105" cy="89"/></g><g id="n90_105"><ellipse cx="105" cy="90"/></g>
<g id="n75_912"><ellipse cx="912" cy="75"/></g><g id="n76_912"><ellipse cx="912" cy="76"/></g><g id="n77_873"><ellipse cx="873" cy="77"/></g><g id="n78_873"><ellipse cx="873" cy="78"/></g><g id="n79_868"><ellipse cx="868" cy="79"/></g><g id="n80_866"><ellipse cx="866" cy="80"/></g><g id="n81_861"><ellipse cx="861" cy="81"/></g><g id="n82_857"><ellipse cx="857" cy="82"/></g><g id="n83_857"><ellipse cx="857" cy="83"/></g><g id="n84_857"><ellipse cx="857" cy="84"/></g><g id="n85_857"><ellipse cx="857" cy="85"/></g><g id="n86_857"><ellipse cx="857" cy="86"/></g><g id="n87_857"><ellipse cx="857" cy="87"/></g><g id="n88_857"><ellipse cx="857" cy="88"/></g><g id="n89_857"><ellipse cx="857" cy="89"/></g><g id="n90_857"><ellipse cx="857" cy="90"/></g><g id="n91_857"><ellipse cx="857" cy="91"/></g><g id="n92_857"><ellipse cx="857" cy="92"/></g>
<g id="n75_1307"><ellipse cx="1307" cy="75"/></g><g id="n76_1346"><ellipse cx="1346" cy="76"/></g><g id="n77_1365"><ellipse cx="1365" cy="77"/></g><g id="n78_1365"><ellipse cx="1365" cy="78"/></g>
<g id="n77_974"><ellipse cx="974" cy="77"/></g><g id="n78_974"><ellipse cx="974" cy="78"/></g>
<g id="n77_1055"><ellipse cx="1055" cy="77"/></g><g id="n78_1055"><ellipse cx="1055" cy="78"/></g>
<g id="n77_1285"><ellipse cx="1285" cy="77"/></g><g id="n78_1285"><ellipse cx="1285" cy="78"/></g>
<g id="n79_428"><ellipse cx="428" cy="79"/></g><g id="n80_428"><ellipse cx="428" cy="80"/></g><g id="n81_428"><ellipse cx="428" cy="81"/></g><g id="n82_428"><ellipse cx="428" cy="82"/></g><g id="n83_428"><ellipse cx="428" cy="83"/></g><g id="n84_428"><ellipse cx="428" cy="84"/></g><g id="n85_428"><ellipse cx="428" cy="85"/></g><g id="n86_428"><ellipse cx="428" cy="86"/></g>
<g id="n79_511"><ellipse cx="511" cy="79"/></g><g id="n80_511"><ellipse cx="511" cy="80"/></g>
<g id="n79_592"><ellipse cx="592" cy="79"/></g><g id="n80_592"><ellipse cx="592" cy="80"/></g><g id="n81_592"><ellipse cx="592" cy="81"/></g><g id="n82_592"><ellipse cx="592" cy="82"/></g><g id="n83_592"><ellipse cx="592" cy="83"/></g><g id="n84_592"><ellipse cx="592" cy="84"/></g><g id="n85_592"><ellipse cx="592" cy="85"/></g><g id="n86_592"><ellipse cx="592" cy="86"/></g><g id="n87_592"><ellipse cx="592" cy="87"/></g><g id="n88_592"><ellipse cx="592" cy="88"/></g><g id="n89_592"><ellipse cx="592" cy="89"/></g><g id="n90_592"><ellipse cx="592" cy="90"/></g><g id="n91_592"><ellipse cx="592" cy="91"/></g><g id="n92_592"><ellipse cx="592" cy="92"/></g>
<g id="n79_1042"><ellipse cx="1042" cy="79"/></g><g id="n80_1042"><ellipse cx="1042" cy="80"/></g><g id="n81_1042"><ellipse cx="1042" cy="81"/></g><g id="n82_1042"><ellipse cx="1042" cy="82"/></g>
<g id="n79_1123"><ellipse cx="1123" cy="79"/></g><g id="n80_1123"><ellipse cx="1123" cy="80"/></g><g id="n81_1123"><ellipse cx="1123" cy="81"/></g><g id="n82_1123"><ellipse cx="1123" cy="82"/></g>
<g id="n79_1285"><ellipse cx="1285" cy="79"/></g><g id="n80_1285"><ellipse cx="1285" cy="80"/></g>
<g id="n81_266"><ellipse cx="266" cy="81"/></g><g id="n82_266"><ellipse cx="266" cy="82"/></g><g id="n83_266"><ellipse cx="266" cy="83"/></g><g id="n84_266"><ellipse cx="266" cy="84"/></g><g id="n85_266"><ellipse cx="266" cy="85"/></g><g id="n86_266"><ellipse cx="266" cy="86"/></g>
<g id="n81_693"><ellipse cx="693" cy="81"/></g><g id="n82_693"><ellipse cx="693" cy="82"/></g><g id="n83_693"><ellipse cx="693" cy="83"/></g><g id="n84_693"><ellipse cx="693" cy="84"/></g><g id="n85_693"><ellipse cx="693" cy="85"/></g><g id="n86_693"><ellipse cx="693" cy="86"/></g>
<g id="n81_773"><ellipse cx="773" cy="81"/></g><g id="n82_773"><ellipse cx="773" cy="82"/></g>
<g id="n83_24"><ellipse cx="24" cy="83"/></g><g id="n84_24"><ellipse cx="24" cy="84"/></g><g id="n85_24"><ellipse cx="24" cy="85"/></g><g id="n86_24"><ellipse cx="24" cy="86"/></g>
<g id="n83_185"><ellipse cx="185" cy="83"/></g><g id="n84_185"><ellipse cx="185" cy="84"/></g>
<g id="n83_508"><ellipse cx="508" cy="83"/></g><g id="n84_508"><ellipse cx="508" cy="84"/></g><g id="n85_508"><ellipse cx="508" cy="85"/></g><g id="n86_508"><ellipse cx="508" cy="86"/></g><g id="n87_508"><ellipse cx="508" cy="87"/></g><g id="n88_508"><ellipse cx="508" cy="88"/></g><g id="n89_508"><ellipse cx="508" cy="89"/></g><g id="n90_508"><ellipse cx="508" cy="90"/></g><g id="n91_508"><ellipse cx="508" cy="91"/></g><g id="n92_508"><ellipse cx="508" cy="92"/></g><g id="n93_508"><ellipse cx="508" cy="93"/></g><g id="n94_508"><ellipse cx="508" cy="94"/></g><g id="n95_508"><ellipse cx="508" cy="95"/></g><g id="n96_508"><ellipse cx="508" cy="96"/></g><g id="n97_508"><ellipse cx="508" cy="97"/></g><g id="n98_508"><ellipse cx="508" cy="98"/></g>
<g id="n83_777"><ellipse cx="777" cy="83"/></g><g id="n84_777"><ellipse cx="777" cy="84"/></g><g id="n85_777"><ellipse cx="777" cy="85"/></g><g id="n86_777"><ellipse cx="777" cy="86"/></g><g id="n87_777"><ellipse cx="777" cy="87"/></g><g id="n88_777"><ellipse cx="777" cy="88"/></g>
<g id="n83_1029"><ellipse cx="1029" cy="83"/></g><g id="n84_1029"><ellipse cx="1029" cy="84"/></g><g id="n85_1029"><ellipse cx="1029" cy="85"/></g><g id="n86_1029"><ellipse cx="1029" cy="86"/></g>
<g id="n83_1110"><ellipse cx="1110" cy="83"/></g><g id="n84_1110"><ellipse cx="1110" cy="84"/></g><g id="n85_1110"><ellipse cx="1110" cy="85"/></g><g id="n86_1110"><ellipse cx="1110" cy="86"/></g>
<g id="n85_948"><ellipse cx="948" cy="85"/></g><g id="n86_948"><ellipse cx="948" cy="86"/></g>
<g id="n85_1346"><ellipse cx="1346" cy="85"/></g><g id="n86_1362"><ellipse cx="1362" cy="86"/></g><g id="n87_1362"><ellipse cx="1362" cy="87"/></g><g id="n88_1362"><ellipse cx="1362" cy="88"/></g>
<g id="n87_938"><ellipse cx="938" cy="87"/></g><g id="n88_938"><ellipse cx="938" cy="88"/></g>
<g id="n87_1019"><ellipse cx="1019" cy="87"/></g><g id="n88_1019"><ellipse cx="1019" cy="88"/></g><g id="n89_1019"><ellipse cx="1019" cy="89"/></g><g id="n90_1019"><ellipse cx="1019" cy="90"/></g>
<g id="n87_1100"><ellipse cx="1100" cy="87"/></g><g id="n88_1100"><ellipse cx="1100" cy="88"/></g><g id="n89_1100"><ellipse cx="1100" cy="89"/></g><g id="n90_1100"><ellipse cx="1100" cy="90"/></g>
<g id="n87_1181"><ellipse cx="1181" cy="87"/></g><g id="n88_1181"><ellipse cx="1181" cy="88"/></g><g id="n89_1181"><ellipse cx="1181" cy="89"/></g><g id="n90_1181"><ellipse cx="1181" cy="90"/></g><g id="n91_1181"><ellipse cx="1181" cy="91"/></g><g id="n92_1181"><ellipse cx="1181" cy="92"/></g><g id="n93_1181"><ellipse cx="1181" cy="93"/></g><g id="n94_1181"><ellipse cx="1181" cy="94"/></g>
<g id="n87_1462"><ellipse cx="1462" cy="87"/></g><g id="n88_1482"><ellipse cx="1482" cy="88"/></g><g id="n89_1504"><ellipse cx="1504" cy="89"/></g><g id="n90_1504"><ellipse cx="1504" cy="90"/></g><g id="n91_1504"><ellipse cx="1504" cy="91"/></g><g id="n92_1504"><ellipse cx="1504" cy="92"/></g><g id="n93_1504"><ellipse cx="1504" cy="93"/></g><g id="n94_1504"><ellipse cx="1504" cy="94"/></g><g id="n95_1504"><ellipse cx="1504" cy="95"/></g><g id="n96_1504"><ellipse cx="1504" cy="96"/></g><g id="n97_1504"><ellipse cx="1504" cy="97"/></g><g id="n98_1504"><ellipse cx="1504" cy="98"/></g><g id="n99_1504"><ellipse cx="1504" cy="99"/></g><g id="n100_1504"><ellipse cx="1504" cy="100"/></g>
<g id="n89_1262"><ellipse cx="1262" cy="89"/></g><g id="n90_1262"><ellipse cx="1262" cy="90"/></g><g id="n91_1262"><ellipse cx="1262" cy="91"/></g><g id="n92_1262"><ellipse cx="1262" cy="92"/></g><g id="n93_1262"><ellipse cx="1262" cy="93"/></g><g id="n94_1262"><ellipse cx="1262" cy="94"/></g>
<g id="n89_1343"><ellipse cx="1343" cy="89"/></g><g id="n90_1343"><ellipse cx="1343" cy="90"/></g><g id="n91_1343"><ellipse cx="1343" cy="91"/></g><g id="n92_1343"><ellipse cx="1343" cy="92"/></g>
<g id="n89_1423"><ellipse cx="1423" cy="89"/></g><g id="n90_1423"><ellipse cx="1423" cy="90"/></g><g id="n91_1423"><ellipse cx="1423" cy="91"/></g><g id="n92_1423"><ellipse cx="1423" cy="92"/></g><g id="n93_1423"><ellipse cx="1423" cy="93"/></g><g id="n94_1423"><ellipse cx="1423" cy="94"/></g>
<g id="n91_1000"><ellipse cx="1000" cy="91"/></g><g id="n92_1000"><ellipse cx="1000" cy="92"/></g><g id="n93_1000"><ellipse cx="1000" cy="93"/></g><g id="n94_1000"><ellipse cx="1000" cy="94"/></g><g id="n95_1000"><ellipse cx="1000" cy="95"/></g><g id="n96_1000"><ellipse cx="1000" cy="96"/></g><g id="n97_1000"><ellipse cx="1000" cy="97"/></g><g id="n98_1000"><ellipse cx="1000" cy="98"/></g><g id="n99_1000"><ellipse cx="1000" cy="99"/></g><g id="n100_1000"><ellipse cx="1000" cy="100"/></g><g id="n101_1000"><ellipse cx="1000" cy="101"/></g><g id="n102_1000"><ellipse cx="1000" cy="102"/></g>
<g id="n91_1080"><ellipse cx="1080" cy="91"/></g><g id="n92_1080"><ellipse cx="1080" cy="92"/></g>
<g id="n93_590"><ellipse cx="590" cy="93"/></g><g id="n94_590"><ellipse cx="590" cy="94"/></g>
<g id="n93_670"><ellipse cx="670" cy="93"/></g><g id="n94_670"><ellipse cx="670" cy="94"/></g>
<g id="n93_1343"><ellipse cx="1343" cy="93"/></g><g id="n94_1343"><ellipse cx="1343" cy="94"/></g>
<g id="n95_632"><ellipse cx="632" cy="95"/></g><g id="n96_632"><ellipse cx="632" cy="96"/></g><g id="n97_632"><ellipse cx="632" cy="97"/></g><g id="n98_632"><ellipse cx="632" cy="98"/></g>
<g id="n95_713"><ellipse cx="713" cy="95"/></g><g id="n96_713"><ellipse cx="713" cy="96"/></g><g id="n97_713"><ellipse cx="713" cy="97"/></g><g id="n98_713"><ellipse cx="713" cy="98"/></g>
<g id="n95_1120"><ellipse cx="1120" cy="95"/></g><g id="n96_1120"><ellipse cx="1120" cy="96"/></g>
<g id="n95_1201"><ellipse cx="1201" cy="95"/></g><g id="n96_1201"><ellipse cx="1201" cy="96"/></g><g id="n97_1201"><ellipse cx="1201" cy="97"/></g><g id="n98_1201"><ellipse cx="1201" cy="98"/></g><g id="n99_1201"><ellipse cx="1201" cy="99"/></g><g id="n100_1201"><ellipse cx="1201" cy="100"/></g><g id="n101_1201"><ellipse cx="1201" cy="101"/></g><g id="n102_1201"><ellipse cx="1201" cy="102"/></g><g id="n103_1201"><ellipse cx="1201" cy="103"/></g><g id="n104_1201"><ellipse cx="1201" cy="104"/></g><g id="n105_1201"><ellipse cx="1201" cy="105"/></g><g id="n106_1201"><ellipse cx="1201" cy="106"/></g><g id="n107_1201"><ellipse cx="1201" cy="107"/></g><g id="n108_1201"><ellipse cx="1201" cy="108"/></g>
<g id="n95_1304"><ellipse cx="1304" cy="95"/></g><g id="n96_1304"><ellipse cx="1304" cy="96"/></g><g id="n97_1304"><ellipse cx="1304" cy="97"/></g><g id="n98_1304"><ellipse cx="1304" cy="98"/></g><g id="n99_1304"><ellipse cx="1304" cy="99"/></g><g id="n100_1304"><ellipse cx="1304" cy="100"/></g><g id="n101_1304"><ellipse cx="1304" cy="101"/></g><g id="n102_1304"><ellipse cx="1304" cy="102"/></g>
<g id="n95_1385"><ellipse cx="1385" cy="95"/></g><g id="n96_1385"><ellipse cx="1385" cy="96"/></g><g id="n97_1385"><ellipse cx="1385" cy="97"/></g><g id="n98_1385"><ellipse cx="1385" cy="98"/></g>
<g id="n99_593"><ellipse cx="593" cy="99"/></g><g id="n100_593"><ellipse cx="593" cy="100"/></g><g id="n101_593"><ellipse cx="593" cy="101"/></g><g id="n102_593"><ellipse cx="593" cy="102"/></g>
<g id="n99_674"><ellipse cx="674" cy="99"/></g><g id="n100_674"><ellipse cx="674" cy="100"/></g>
<g id="n101_1462"><ellipse cx="1462" cy="101"/></g><g id="n102_1462"><ellipse cx="1462" cy="102"/></g>
<g id="n101_1543"><ellipse cx="1543" cy="101"/></g><g id="n102_1543"><ellipse cx="1543" cy="102"/></g>
<g id="n103_961"><ellipse cx="961" cy="103"/></g><g id="n104_961"><ellipse cx="961" cy="104"/></g><g id="n105_961"><ellipse cx="961" cy="105"/></g><g id="n106_961"><ellipse cx="961" cy="106"/></g><g id="n107_961"><ellipse cx="961" cy="107"/></g><g id="n108_961"><ellipse cx="961" cy="108"/></g>
<g id="n103_1042"><ellipse cx="1042" cy="103"/></g><g id="n104_1042"><ellipse cx="1042" cy="104"/></g>
<g id="n103_1297"><ellipse cx="1297" cy="103"/></g><g id="n104_1297"><ellipse cx="1297" cy="104"/></g>
<g id="n103_1378"><ellipse cx="1378" cy="103"/></g><g id="n104_1378"><ellipse cx="1378" cy="104"/></g>
<g id="n105_1291"><ellipse cx="1291" cy="105"/></g><g id="n106_1291"><ellipse cx="1291" cy="106"/></g>
<g id="n105_1372"><ellipse cx="1372" cy="105"/></g><g id="n106_1372"><ellipse cx="1372" cy="106"/></g><g id="n107_1372"><ellipse cx="1372" cy="107"/></g><g id="n108_1372"><ellipse cx="1372" cy="108"/></g>
<g id="n109_1330"><ellipse cx="1330" cy="109"/></g><g id="n110_1330"><ellipse cx="1330" cy="110"/></g>
<g id="n109_1411"><ellipse cx="1411" cy="109"/></g><g id="n110_1411"><ellipse cx="1411" cy="110"/></g><g id="n111_1411"><ellipse cx="1411" cy="111"/></g><g id="n112_1411"><ellipse cx="1411" cy="112"/></g><g id="n113_1411"><ellipse cx="1411" cy="113"/></g><g id="n114_1411"><ellipse cx="1411" cy="114"/></g>
<g id="n111_1330"><ellipse cx="1330" cy="111"/></g><g id="n112_1330"><ellipse cx="1330" cy="112"/></g><g id="n113_1291"><ellipse cx="1291" cy="113"/></g><g id="n114_1291"><ellipse cx="1291" cy="114"/></g><g id="n115_1291"><ellipse cx="1291" cy="115"/></g><g id="n116_1291"><ellipse cx="1291" cy="116"/></g>
<g id="n111_1494"><ellipse cx="1494" cy="111"/></g><g id="n112_1498"><ellipse cx="1498" cy="112"/></g><g id="n113_1501"><ellipse cx="1501" cy="113"/></g><g id="n114_1511"><ellipse cx="1511" cy="114"/></g><g id="n115_1533"><ellipse cx="1533" cy="115"/></g><g id="n116_1533"><ellipse cx="1533" cy="116"/></g><g id="n117_1533"><ellipse cx="1533" cy="117"/></g><g id="n118_1533"><ellipse cx="1533" cy="118"/></g>
<g id="n115_1372"><ellipse cx="1372" cy="115"/></g><g id="n116_1372"><ellipse cx="1372" cy="116"/></g><g id="n117_1372"><ellipse cx="1372" cy="117"/></g><g id="n118_1372"><ellipse cx="1372" cy="118"/></g><g id="n119_1372"><ellipse cx="1372" cy="119"/></g><g id="n120_1372"><ellipse cx="1372" cy="120"/></g><g id="n121_1372"><ellipse cx="1372" cy="121"/></g><g id="n122_1372"><ellipse cx="1372" cy="122"/></g><g id="n123_1372"><ellipse cx="1372" cy="123"/></g><g id="n124_1372"><ellipse cx="1372" cy="124"/></g><g id="n125_1372"><ellipse cx="1372" cy="125"/></g><g id="n126_1372"><ellipse cx="1372" cy="126"/></g>
<g id="n115_1453"><ellipse cx="1453" cy="115"/></g><g id="n116_1453"><ellipse cx="1453" cy="116"/></g><g id="n117_1453"><ellipse cx="1453" cy="117"/></g><g id="n118_1453"><ellipse cx="1453" cy="118"/></g><g id="n119_1453"><ellipse cx="1453" cy="119"/></g><g id="n120_1453"><ellipse cx="1453" cy="120"/></g><g id="n121_1453"><ellipse cx="1453" cy="121"/></g><g id="n122_1453"><ellipse cx="1453" cy="122"/></g><g id="n123_1453"><ellipse cx="1453" cy="123"/></g><g id="n124_1453"><ellipse cx="1453" cy="124"/></g><g id="n125_1453"><ellipse cx="1453" cy="125"/></g><g id="n126_1453"><ellipse cx="1453" cy="126"/></g><g id="n127_1453"><ellipse cx="1453" cy="127"/></g><g id="n128_1453"><ellipse cx="1453" cy="128"/></g><g id="n129_1453"><ellipse cx="1453" cy="129"/></g><g id="n130_1453"><ellipse cx="1453" cy="130"/></g><g id="n131_1453"><ellipse cx="1453" cy="131"/></g><g id="n132_1453"><ellipse cx="1453" cy="132"/></g><g id="n133_1453"><ellipse cx="1453" cy="133"/></g><g id="n134_1453"><ellipse cx="1453" cy="134"/></g><g id="n135_1453"><ellipse cx="1453" cy="135"/></g><g id="n136_1453"><ellipse cx="1453" cy="136"/></g>
<g id="n119_1291"><ellipse cx="1291" cy="119"/></g><g id="n120_1291"><ellipse cx="1291" cy="120"/></g><g id="n121_1291"><ellipse cx="1291" cy="121"/></g><g id="n122_1291"><ellipse cx="1291" cy="122"/></g><g id="n123_1291"><ellipse cx="1291" cy="123"/></g><g id="n124_1291"><ellipse cx="1291" cy="124"/></g><g id="n125_1291"><ellipse cx="1291" cy="125"/></g><g id="n126_1291"><ellipse cx="1291" cy="126"/></g>
<g id="n137_1413"><ellipse cx="1413" cy="137"/></g><g id="n138_1413"><ellipse cx="1413" cy="138"/></g>
<g id="n137_1494"><ellipse cx="1494" cy="137"/></g><g id="n138_1494"><ellipse cx="1494" cy="138"/></g><g id="n139_1494"><ellipse cx="1494" cy="139"/></g><g id="n140_1494"><ellipse cx="1494" cy="140"/></g><g id="n141_1494"><ellipse cx="1494" cy="141"/></g><g id="n142_1494"><ellipse cx="1494" cy="142"/></g><g id="n143_1494"><ellipse cx="1494" cy="143"/></g><g id="n144_1494"><ellipse cx="1494" cy="144"/></g><g id="n145_1494"><ellipse cx="1494" cy="145"/></g><g id="n146_1494"><ellipse cx="1494" cy="146"/></g><g id="n147_1494"><ellipse cx="1494" cy="147"/></g><g id="n148_1494"><ellipse cx="1494" cy="148"/></g><g id="n149_1494"><ellipse cx="1494" cy="149"/></g><g id="n150_1494"><ellipse cx="1494" cy="150"/></g><g id="n151_1494"><ellipse cx="1494" cy="151"/></g><g id="n152_1494"><ellipse cx="1494" cy="152"/></g><g id="n153_1494"><ellipse cx="1494" cy="153"/></g><g id="n154_1494"><ellipse cx="1494" cy="154"/></g><g id="n155_1494"><ellipse cx="1494" cy="155"/></g><g id="n156_1494"><ellipse cx="1494" cy="156"/></g>
</g>
</g>
</svg>
